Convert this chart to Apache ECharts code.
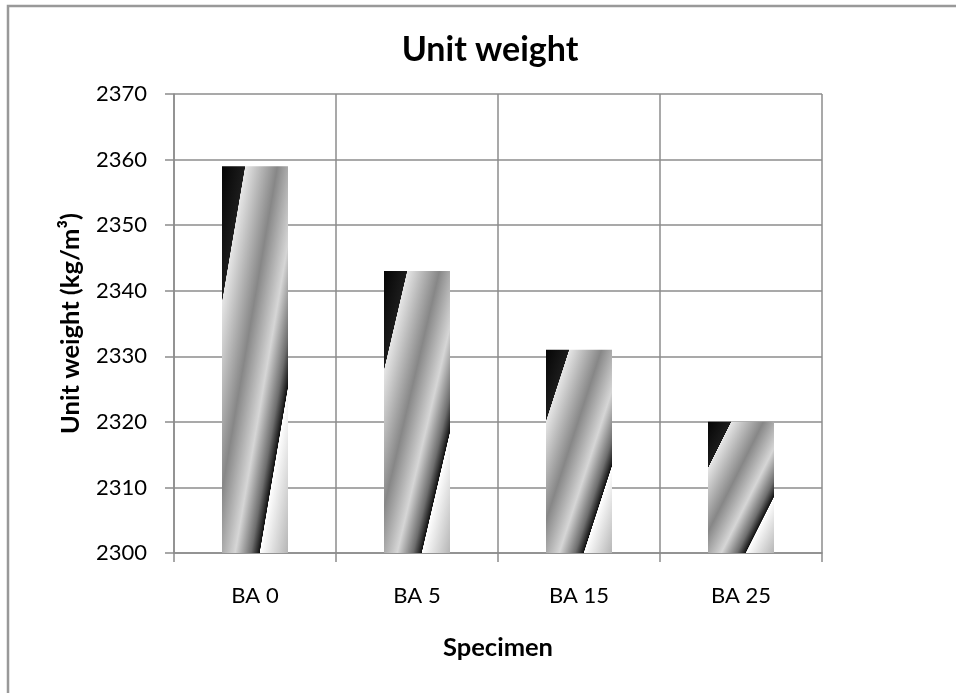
<!DOCTYPE html>
<html>
<head>
<meta charset="utf-8">
<script src="https://cdn.jsdelivr.net/npm/echarts@6/dist/echarts.min.js"></script>
<style>
  html, body { margin: 0; padding: 0; background: #fff; }
  #chart { width: 956px; height: 693px; }
</style>
</head>
<body>
<div id="chart"></div>
<script>
// ---- data ----
var categories = ['BA 0', 'BA 5', 'BA 15', 'BA 25'];
var unitWeight = [2359, 2343, 2331, 2320];
var yMin = 2300, yMax = 2370, yStep = 10;
var chartTitle = 'Unit weight';
var xName = 'Specimen';
var yName = 'Unit weight (kg/m\u00B3)';

// ---- layout ----
var G = { left: 174, right: 134, top: 94, bottom: 140 };
var W = 956, H = 693;
var plotH = H - G.top - G.bottom;
var barW = 66;
var FONT = 'Lato';

function barGradient(v) {
  var h = (v - yMin) / (yMax - yMin) * plotH;
  var w = barW;
  var s = h * h + w * w;
  return {
    type: 'linear', x: 0, y: 0,
    x2: 2 * h * h / s, y2: 2 * w * w / s,
    colorStops: [
      { offset: 0, color: '#050505' },
      { offset: 0.174, color: '#1c1c1c' },
      { offset: 0.177, color: '#e6e6e6' },
      { offset: 0.42, color: '#878787' },
      { offset: 0.6, color: '#d6d6d6' },
      { offset: 0.72, color: '#6e6e6e' },
      { offset: 0.784, color: '#101010' },
      { offset: 0.787, color: '#ffffff' },
      { offset: 1, color: '#b5b5b5' }
    ]
  };
}

var chart = echarts.init(document.getElementById('chart'), null, { renderer: 'canvas' });
var gridColor = '#8c8c8c';
chart.setOption({
  animation: false,
  backgroundColor: '#ffffff',
  grid: G,
  graphic: [
    { type: 'rect', shape: { x: 8, y: 6, width: 1200, height: 1200 },
      style: { fill: 'none', stroke: '#999', lineWidth: 2.5 }, silent: true },
    { type: 'text', x: 490, y: 50,
      style: { text: chartTitle, font: 'bold 34px ' + FONT, fill: '#000',
               textAlign: 'center', textVerticalAlign: 'middle' } }
  ],
  xAxis: {
    type: 'category',
    data: categories,
    boundaryGap: true,
    name: xName,
    nameLocation: 'middle',
    nameGap: 82,
    nameTextStyle: { fontFamily: FONT, fontWeight: 'bold', fontSize: 25.5, color: '#000' },
    axisLine: { lineStyle: { color: gridColor, width: 1.5 } },
    axisTick: { show: true, length: 9, lineStyle: { color: gridColor, width: 1.5 } },
    axisLabel: { fontFamily: FONT, fontSize: 22, color: '#000', margin: 32 },
    splitLine: { show: true, lineStyle: { color: gridColor, width: 1.5 } }
  },
  yAxis: {
    type: 'value',
    min: yMin, max: yMax, interval: yStep,
    name: yName,
    nameLocation: 'middle',
    nameGap: 90,
    nameTextStyle: { fontFamily: FONT, fontWeight: 'bold', fontSize: 25.5, color: '#000' },
    axisLine: { show: true, lineStyle: { color: gridColor, width: 1.5 } },
    axisTick: { show: true, length: 9, lineStyle: { color: gridColor, width: 1.5 } },
    axisLabel: { fontFamily: FONT, fontSize: 22, color: '#000', margin: 27,
                 formatter: function (v) { return String(v); } },
    splitLine: { show: true, lineStyle: { color: gridColor, width: 1.5 } }
  },
  series: [{
    type: 'bar',
    barWidth: barW,
    data: unitWeight.map(function (v) {
      return { value: v, itemStyle: { color: barGradient(v) } };
    })
  }]
});
</script>
</body>
</html>
